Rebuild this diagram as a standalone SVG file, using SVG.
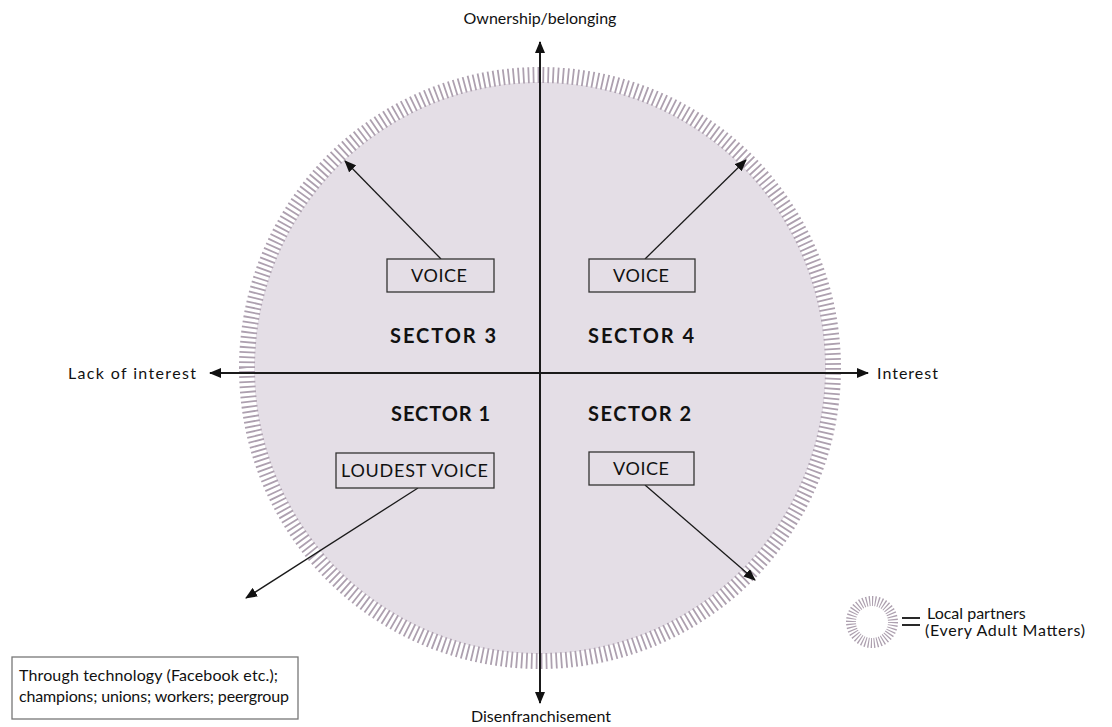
<svg xmlns="http://www.w3.org/2000/svg" width="1112" height="727" viewBox="0 0 1112 727">
<defs>
<style>
text{font-family:Lato,"Open Sans","Liberation Sans",sans-serif;fill:#111;font-size:16px}
.b{font-weight:bold;font-size:20px}
.v{font-size:18px}
.ln{stroke:#1a1a1a;stroke-width:1.3;fill:none}
.ax{stroke:#1a1a1a;stroke-width:2;fill:none}
.box{fill:#e4dee6;stroke:#333;stroke-width:1.3}
</style>
<marker id="ah" viewBox="0 0 12 10" refX="11" refY="5" markerWidth="12" markerHeight="10" markerUnits="userSpaceOnUse" orient="auto-start-reverse">
<path d="M0,0 L12,5 L0,10 Z" fill="#111"/>
</marker>
</defs>
<rect width="1112" height="727" fill="#fff"/>
<g id="circle">
<circle cx="540" cy="368" r="286" fill="#e4dee6"/>
<circle cx="540" cy="368" r="293" fill="none" stroke="#ada0af" stroke-width="16" pathLength="370" stroke-dasharray="0.36 0.64"/>
</g>
<g id="connectors">
<line class="ax" x1="540" y1="42" x2="540" y2="703" marker-start="url(#ah)" marker-end="url(#ah)"/>
<line class="ax" x1="210" y1="373" x2="868" y2="373" marker-start="url(#ah)" marker-end="url(#ah)"/>
<line class="ln" x1="441" y1="259" x2="345" y2="161" marker-end="url(#ah)"/>
<line class="ln" x1="645" y1="259" x2="746" y2="160" marker-end="url(#ah)"/>
<line class="ln" x1="645" y1="485" x2="755" y2="580" marker-end="url(#ah)"/>
<line class="ln" x1="418" y1="488" x2="246" y2="598" marker-end="url(#ah)"/>
</g>
<g id="axis-labels">
<text x="540" y="24" font-size="13" text-anchor="middle">Ownership/belonging</text>
<text x="541" y="722" font-size="14" text-anchor="middle">Disenfranchisement</text>
<text x="68" y="379" font-size="18" textLength="128">Lack of interest</text>
<text x="877" y="379" font-size="18" textLength="61">Interest</text>
</g>
<g id="sectors">
<text class="b" x="390" y="343" textLength="106">SECTOR 3</text>
<text class="b" x="588" y="343" textLength="106">SECTOR 4</text>
<text class="b" x="391" y="421" textLength="99">SECTOR 1</text>
<text class="b" x="588" y="421" textLength="103">SECTOR 2</text>
</g>
<g id="voice3">
<rect class="box" x="387" y="259" width="107" height="33"/>
<text class="v" x="411" y="282" textLength="56">VOICE</text>
</g>
<g id="voice4">
<rect class="box" x="589" y="259" width="106" height="33"/>
<text class="v" x="613" y="282" textLength="56">VOICE</text>
</g>
<g id="voice2">
<rect class="box" x="589" y="452" width="105" height="33"/>
<text class="v" x="613" y="475" textLength="56">VOICE</text>
</g>
<g id="loudest">
<rect class="box" x="336" y="453" width="158" height="35" stroke-width="2.2"/>
<text class="v" x="341" y="477" textLength="147">LOUDEST VOICE</text>
</g>
<g id="technology">
<rect x="12" y="657" width="286" height="62" fill="#fff" stroke="#777" stroke-width="1.3"/>
<text x="19" y="681" textLength="259">Through technology (Facebook etc.);</text>
<text x="19" y="702" textLength="270">champions; unions; workers; peergroup</text>
</g>
<g id="legend">
<circle cx="872" cy="622" r="21" fill="none" stroke="#ada0af" stroke-width="10" pathLength="44" stroke-dasharray="0.4 0.6"/>
<line x1="902" y1="618" x2="920" y2="618" stroke="#111" stroke-width="1.8"/>
<line x1="902" y1="625" x2="920" y2="625" stroke="#111" stroke-width="1.8"/>
<text x="927" y="619" font-size="15">Local partners</text>
<text x="925" y="636" font-size="15" textLength="160">(Every Adult Matters)</text>
</g>
</svg>
